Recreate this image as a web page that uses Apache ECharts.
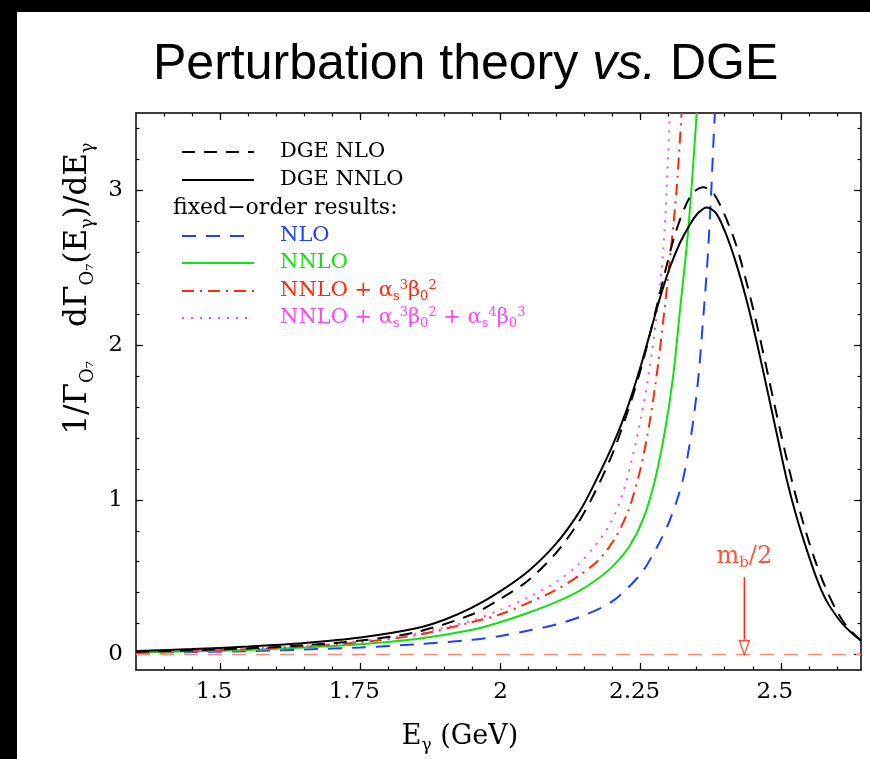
<!DOCTYPE html>
<html>
<head>
    <meta charset="UTF-8" />
    <title>Perturbation theory vs. DGE</title>
    <style>
        * { margin: 0; padding: 0; }
        html, body { width: 870px; height: 759px; background: #fff; }
        .chart { width: 870px; height: 759px; }
    </style>
</head>
<body>
    <div class="chart"></div>
    <script src="https://cdn.jsdelivr.net/npm/echarts@6.0.0/dist/echarts.min.js"></script>
    <script type="text/javascript">
        // axis ticks
        var xMajor = [1.5, 1.75, 2, 2.25, 2.5];
        var xMinor = [1.4, 1.45, 1.5, 1.55, 1.6, 1.65, 1.7, 1.75, 1.8, 1.85, 1.9, 1.95, 2, 2.05, 2.1, 2.15, 2.2, 2.25, 2.3, 2.35, 2.4, 2.45, 2.5, 2.55, 2.6];
        var yMajor = [0, 1, 2, 3];
        var yMinor = [0.2, 0.4, 0.6, 0.8, 1, 1.2, 1.4, 1.6, 1.8, 2, 2.2, 2.4, 2.6, 2.8, 3, 3.2, 3.4];
        var xMin = 1.35, xMax = 2.643, yMin = -0.1, yMax = 3.5;
        var mbHalf = 2.435;

        // DGE NLO (black dashed)
        var eDgeNlo = [1.35, 1.45, 1.55, 1.65, 1.75, 1.85, 1.95, 2.0, 2.05, 2.1, 2.14, 2.17, 2.2, 2.225, 2.25, 2.27, 2.29, 2.31, 2.33, 2.345, 2.362, 2.38, 2.4, 2.42, 2.44, 2.46, 2.48, 2.5, 2.52, 2.54, 2.56, 2.58, 2.6, 2.62, 2.643];
        var vDgeNlo = [0.018, 0.027, 0.04, 0.06, 0.09, 0.145, 0.26, 0.36, 0.48, 0.66, 0.86, 1.06, 1.3, 1.55, 1.84, 2.12, 2.42, 2.7, 2.9, 2.99, 3.02, 2.98, 2.84, 2.65, 2.39, 2.09, 1.76, 1.43, 1.12, 0.85, 0.62, 0.43, 0.28, 0.17, 0.09];

        // DGE NNLO (black solid)
        var eDgeNnlo = [1.35, 1.45, 1.55, 1.65, 1.75, 1.85, 1.9, 1.95, 2.0, 2.05, 2.1, 2.142, 2.171, 2.201, 2.225, 2.249, 2.267, 2.284, 2.302, 2.32, 2.338, 2.353, 2.368, 2.385, 2.403, 2.421, 2.439, 2.457, 2.474, 2.492, 2.51, 2.528, 2.546, 2.564, 2.581, 2.605, 2.623, 2.643];
        var vDgeNnlo = [0.022, 0.035, 0.052, 0.075, 0.11, 0.17, 0.225, 0.305, 0.41, 0.54, 0.72, 0.93, 1.13, 1.36, 1.58, 1.85, 2.08, 2.3, 2.5, 2.66, 2.78, 2.855, 2.89, 2.85, 2.71, 2.52, 2.29, 2.02, 1.74, 1.44, 1.14, 0.89, 0.68, 0.49, 0.35, 0.22, 0.15, 0.09];

        // fixed order NLO (blue dashed)
        var eNlo = [1.35, 1.45, 1.55, 1.65, 1.75, 1.85, 1.95, 2.0, 2.05, 2.1, 2.15, 2.2, 2.25, 2.28, 2.3, 2.315, 2.326, 2.338, 2.347, 2.354, 2.36, 2.366, 2.3705, 2.3734, 2.3764, 2.3794, 2.3824];
        var vNlo = [0.012, 0.016, 0.022, 0.032, 0.046, 0.066, 0.095, 0.12, 0.155, 0.195, 0.255, 0.345, 0.52, 0.7, 0.85, 1.0, 1.14, 1.37, 1.6, 1.83, 2.1, 2.38, 2.62, 2.82, 3.03, 3.28, 3.5];

        // fixed order NNLO (green solid)
        var eNnlo = [1.35, 1.45, 1.55, 1.65, 1.75, 1.85, 1.95, 2.0, 2.05, 2.1, 2.14, 2.17, 2.2, 2.23, 2.255, 2.275, 2.293, 2.308, 2.32, 2.335, 2.35];
        var vNnlo = [0.015, 0.021, 0.03, 0.045, 0.066, 0.1, 0.16, 0.21, 0.27, 0.34, 0.41, 0.48, 0.57, 0.7, 0.88, 1.12, 1.44, 1.8, 2.22, 2.75, 3.5];

        // NNLO + as^3 b0^2 (red dash-dot)
        var eNnloA3 = [1.35, 1.45, 1.55, 1.65, 1.75, 1.85, 1.95, 2.0, 2.05, 2.1, 2.14, 2.175, 2.204, 2.228, 2.249, 2.2665, 2.2813, 2.2932, 2.3051, 2.314, 2.323];
        var vNnloA3 = [0.017, 0.024, 0.035, 0.052, 0.08, 0.125, 0.21, 0.26, 0.335, 0.42, 0.51, 0.61, 0.75, 0.93, 1.19, 1.51, 1.88, 2.25, 2.66, 3.0, 3.5];

        // NNLO + as^3 b0^2 + as^4 b0^3 (magenta dotted)
        var eNnloA4 = [1.35, 1.45, 1.55, 1.65, 1.75, 1.85, 1.95, 2.0, 2.05, 2.1, 2.14, 2.168, 2.195, 2.219, 2.237, 2.2516, 2.2653, 2.2772, 2.2873, 2.295, 2.302];
        var vNnloA4 = [0.018, 0.026, 0.038, 0.056, 0.085, 0.135, 0.22, 0.29, 0.37, 0.47, 0.585, 0.7, 0.84, 1.05, 1.3, 1.55, 1.83, 2.15, 2.48, 2.89, 3.5];

        var BLACK = "#000000", BLUE = "#1f40ff", GREEN = "#12e012", RED = "#ff2a0a", MAGENTA = "#ff44ff", SALMON = "#ff8a78";
        var SERIF = "DejaVu Serif";

        function zip(xs, ys) {
            return xs.map(function (x, i) { return [x, ys[i]]; });
        }

        var richText = {
            t: { fontFamily: SERIF, fontSize: 21, lineHeight: 24 },
            b: { fontFamily: SERIF, fontSize: 13, lineHeight: 13, verticalAlign: "bottom" },
            p: { fontFamily: SERIF, fontSize: 13, lineHeight: 13, verticalAlign: "top" }
        };

        // hand-drawn legend, like the original
        var legendRows = [
            { y: 152, text: "{t|DGE NLO}", color: BLACK, dash: [13, 9] },
            { y: 180, text: "{t|DGE NNLO}", color: BLACK, dash: null },
            { y: 236, text: "{t|NLO}", color: BLUE, dash: [14, 10] },
            { y: 263, text: "{t|NNLO}", color: GREEN, dash: null },
            { y: 291, text: "{t|NNLO + α}{b|s}{p|3}{t|β}{b|0}{p|2}", color: RED, dash: [12, 6, 2, 6] },
            { y: 318, text: "{t|NNLO + α}{b|s}{p|3}{t|β}{b|0}{p|2}{t| + α}{b|s}{p|4}{t|β}{b|0}{p|3}", color: MAGENTA, dash: [2, 7] }
        ];

        var graphics = [
            { type: "rect", left: 0, top: 0, shape: { width: 870, height: 12 }, style: { fill: BLACK }, silent: true },
            { type: "rect", left: 0, top: 0, shape: { width: 17, height: 759 }, style: { fill: BLACK }, silent: true },
            {
                type: "text", x: 173, y: 208, silent: true,
                style: { text: "fixed−order results:", fill: BLACK, font: "22px 'DejaVu Serif'", verticalAlign: "middle" }
            }
        ];
        legendRows.forEach(function (r) {
            graphics.push({
                type: "line", silent: true,
                shape: { x1: 182, y1: r.y, x2: 254, y2: r.y },
                style: { stroke: r.color, lineWidth: 2, lineDash: r.dash }
            });
            graphics.push({
                type: "text", x: 280, y: r.y, silent: true,
                style: { text: r.text, rich: richText, fill: r.color, verticalAlign: "middle", align: "left" }
            });
        });

        function curve(name, e, v, color, type, z) {
            return {
                name: name,
                type: "line",
                data: zip(e, v),
                showSymbol: false,
                symbol: "none",
                smooth: 0.3,
                silent: true,
                z: z,
                lineStyle: { color: color, width: 2, type: type }
            };
        }

        function tickAxis(dim, pos, grid, vals, len, line, labels) {
            return {
                type: "value",
                gridIndex: grid,
                position: pos,
                min: dim === "x" ? xMin : yMin,
                max: dim === "x" ? xMax : yMax,
                splitLine: { show: false },
                axisLine: { show: line, onZero: false, lineStyle: { color: BLACK, width: 1.5 } },
                axisTick: { show: true, inside: true, length: len, customValues: vals, lineStyle: { color: BLACK, width: 1.2 } },
                axisLabel: { show: labels, customValues: vals }
            };
        }

        var myChart = echarts.init(document.querySelector(".chart"));

        var xBottom = tickAxis("x", "bottom", 0, xMajor, 7, true, true);
        xBottom.axisLabel = {
            show: true, customValues: xMajor, margin: 11,
            formatter: function (v) {
                var s = String(v);
                return s.indexOf(".") >= 0 ? "{d|" + s + "}" : "{c|" + s + "}";
            },
            rich: {
                d: { color: BLACK, fontFamily: SERIF, fontSize: 23, padding: [0, 12, 0, 0] },
                c: { color: BLACK, fontFamily: SERIF, fontSize: 23 }
            }
        };
        xBottom.name = "{t|E}{b|γ}{t| (GeV)}";
        xBottom.nameLocation = "middle";
        xBottom.nameGap = 50;
        xBottom.nameTextStyle = {
            color: BLACK, padding: [0, 77, 0, 0],
            rich: {
                t: { fontFamily: SERIF, fontSize: 27, lineHeight: 34, color: BLACK },
                b: { fontFamily: SERIF, fontSize: 17, lineHeight: 17, verticalAlign: "bottom", color: BLACK }
            }
        };

        var yLeft = tickAxis("y", "left", 0, yMajor, 7, true, true);
        yLeft.axisLabel = {
            show: true, customValues: yMajor, margin: 13,
            color: BLACK, fontFamily: SERIF, fontSize: 23
        };
        yLeft.name = "{t|1/Γ}{b|O₇}{s| }{t|dΓ}{b|O₇}{t|(E}{b|γ}{t|)/dE}{b|γ}";
        yLeft.nameLocation = "middle";
        yLeft.nameGap = 36;
        yLeft.nameTextStyle = {
            color: BLACK, padding: [0, 0, 0, 206],
            rich: {
                t: { fontFamily: SERIF, fontSize: 31, lineHeight: 40, color: BLACK },
                b: { fontFamily: SERIF, fontSize: 18, lineHeight: 18, verticalAlign: "bottom", color: BLACK },
                s: { width: 34 }
            }
        };

        var option = {
            backgroundColor: "#ffffff",
            animation: false,
            title: {
                text: "{n|Perturbation theory }{i|vs.}{n| DGE}",
                left: 148,
                top: 35,
                textStyle: {
                    fontWeight: "normal",
                    rich: {
                        n: { fontFamily: "Liberation Sans", fontSize: 50, fontWeight: "normal", color: BLACK },
                        i: { fontFamily: "Liberation Sans", fontSize: 50, fontWeight: "normal", fontStyle: "italic", color: BLACK }
                    }
                }
            },
            graphic: graphics,
            grid: [
                { left: 136, top: 113, right: 9, bottom: 89, containLabel: false },
                { left: 136, top: 113, right: 9, bottom: 89, containLabel: false }
            ],
            xAxis: [
                xBottom,
                tickAxis("x", "top", 0, xMajor, 7, true, false),
                tickAxis("x", "bottom", 1, xMinor, 3.5, false, false),
                tickAxis("x", "top", 1, xMinor, 3.5, false, false)
            ],
            yAxis: [
                yLeft,
                tickAxis("y", "right", 0, yMajor, 7, true, false),
                tickAxis("y", "left", 1, yMinor, 3.5, false, false),
                tickAxis("y", "right", 1, yMinor, 3.5, false, false)
            ],
            series: [
                {
                    name: "zero",
                    type: "line",
                    data: [[xMin, 0], [xMax, 0]],
                    symbol: "none",
                    silent: true,
                    z: 1,
                    lineStyle: { color: SALMON, width: 1.5, type: [14, 10] }
                },
                curve("DGE NLO", eDgeNlo, vDgeNlo, BLACK, [13, 9], 5),
                curve("DGE NNLO", eDgeNnlo, vDgeNnlo, BLACK, "solid", 6),
                curve("NLO", eNlo, vNlo, BLUE, [14, 10], 3),
                curve("NNLO", eNnlo, vNnlo, GREEN, "solid", 3),
                curve("NNLO+a3", eNnloA3, vNnloA3, RED, [12, 6, 2, 6], 4),
                curve("NNLO+a3+a4", eNnloA4, vNnloA4, MAGENTA, [2, 7], 4),
                {
                    name: "arrow",
                    type: "line",
                    data: [[mbHalf, 0.5], [mbHalf, 0.097]],
                    symbol: "none",
                    silent: true,
                    lineStyle: { color: RED, width: 1.5 }
                },
                {
                    name: "arrowhead",
                    type: "scatter",
                    data: [[mbHalf, 0]],
                    symbol: "triangle",
                    symbolRotate: 180,
                    symbolSize: [10, 14],
                    symbolOffset: [0, -7],
                    silent: true,
                    itemStyle: { color: "#ffffff", borderColor: RED, borderWidth: 1.5 }
                },
                {
                    name: "mb label",
                    type: "scatter",
                    data: [[mbHalf, 0.63]],
                    symbolSize: 0,
                    silent: true,
                    label: {
                        show: true,
                        position: "inside",
                        formatter: "{t|m}{b|b}{t|/2}",
                        rich: {
                            t: { fontFamily: SERIF, fontSize: 24, lineHeight: 28, color: RED },
                            b: { fontFamily: SERIF, fontSize: 15, lineHeight: 15, verticalAlign: "bottom", color: RED }
                        }
                    }
                }
            ]
        };
        myChart.setOption(option);
    </script>
</body>
</html>
